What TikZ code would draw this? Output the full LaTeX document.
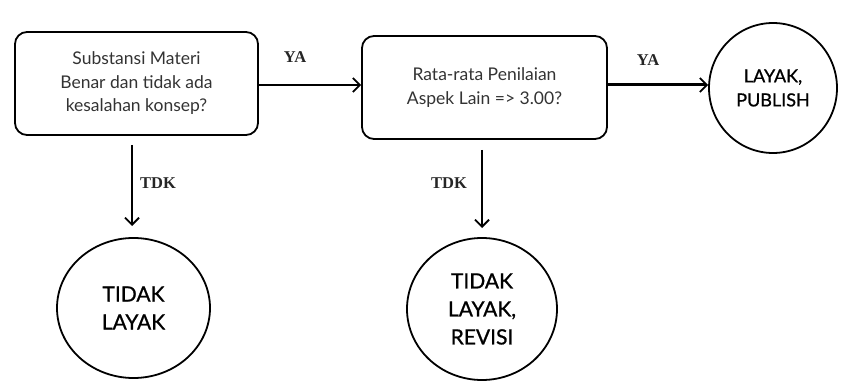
\documentclass[tikz,border=0pt]{standalone}
\usepackage{fontspec}
\setmainfont{Lato}
\newfontfamily\lblfont{Liberation Serif}
\newfontfamily\circfont[FakeBold=0.9]{Lato}
\usetikzlibrary{arrows.meta,shapes.geometric}
\begin{document}
\begin{tikzpicture}[x=1pt,y=-1pt,
  decbox/.style={draw, line width=1.8pt, rounded corners=12pt, align=center,
    font=\fontsize{17.5}{23.5}\selectfont, text=black!80, inner sep=0pt},
  endcirc/.style={draw, line width=1.8pt, ellipse, align=center, inner sep=0pt,
    font=\circfont\fontsize{21}{28}\selectfont},
  conn/.style={line width=1.8pt, -{Straight Barb[length=7pt,width=14pt,line width=1.8pt]}},
  lbl/.style={font=\lblfont\bfseries\fontsize{16.5}{18}\selectfont, text=black!85}]
\useasboundingbox (0,0) rectangle (849,385);
\node[decbox, minimum width=243pt, minimum height=103pt] (q1) at (136.5,83.5)
  {Substansi Materi\\Benar dan tidak ada\\kesalahan konsep?};
\node[decbox, minimum width=245pt, minimum height=103pt] (q2) at (484.5,87.5)
  {Rata-rata Penilaian\\Aspek Lain => 3.00?};
\node[endcirc, minimum width=128pt, minimum height=130pt,
  font=\circfont\fontsize{18}{24}\selectfont] (pub) at (773,88)
  {LAYAK,\\PUBLISH};
\node[endcirc, minimum width=153pt, minimum height=140pt] (tl) at (133.5,308)
  {TIDAK\\LAYAK};
\node[endcirc, minimum width=150pt, minimum height=142pt] (tlr) at (482,309)
  {TIDAK\\LAYAK,\\REVISI};
\coordinate (d1s) at (132,145);
\coordinate (d1e) at (132,226);
\coordinate (d2s) at (482,150);
\coordinate (d2e) at (482,228);
\draw[conn] (q1.east |- 0,85) -- (q2.west |- 0,85);
\draw[conn, line width=3pt] (q2.east |- 0,85) -- (pub.west |- 0,85);
\draw[conn] (d1s) -- (d1e);
\draw[conn] (d2s) -- (d2e);
\node[lbl] (ya1) at (295,57) {YA};
\node[lbl] (ya2) at (648,60) {YA};
\node[lbl] (tdk1) at (158,183) {TDK};
\node[lbl] (tdk2) at (449,183) {TDK};
\end{tikzpicture}
\end{document}
